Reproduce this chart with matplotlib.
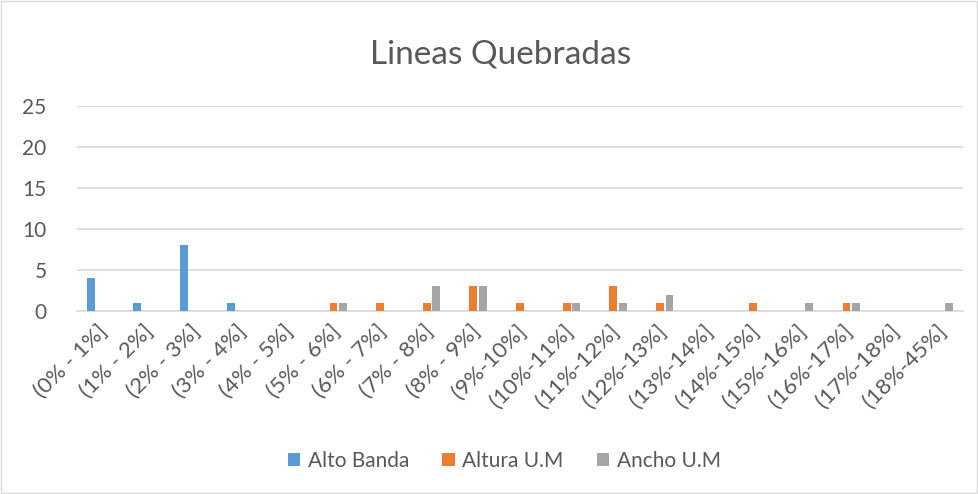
import matplotlib
matplotlib.use("Agg")
import matplotlib.pyplot as plt
import matplotlib.transforms as mtransforms
import numpy as np

plt.rcParams['font.family'] = ['Lato', 'DejaVu Sans']

categories = ["(0% - 1%]", "(1% - 2%]", "(2% - 3%]", "(3% - 4%]", "(4% - 5%]",
              "(5% - 6%]", "(6% - 7%]", "(7% - 8%]", "(8% - 9%]", "(9%-10%]",
              "(10%-11%]", "(11%-12%]", "(12%-13%]", "(13%-14%]", "(14%-15%]",
              "(15%-16%]", "(16%-17%]", "(17%-18%]", "(18%-45%]"]
alto_banda = [4, 1, 8, 1, 0, 0, 0, 0, 0, 0, 0, 0, 0, 0, 0, 0, 0, 0, 0]
altura_um = [0, 0, 0, 0, 0, 1, 1, 1, 3, 1, 1, 3, 1, 0, 1, 0, 1, 0, 0]
ancho_um = [0, 0, 0, 0, 0, 1, 0, 3, 3, 0, 1, 1, 2, 0, 0, 1, 1, 0, 1]

series = [("Alto Banda", alto_banda, "#5b9bd5"),
          ("Altura U.M", altura_um, "#ed7d31"),
          ("Ancho U.M", ancho_um, "#a5a5a5")]

text_col = "#595959"
grid_col = "#d9d9d9"

fig = plt.figure(figsize=(9.79, 4.94), dpi=100)
ax = fig.add_axes([0.0787, 0.3704, 0.905, 0.415])

x = np.arange(len(categories))
step = 0.205
width = 0.17
for i, (name, vals, col) in enumerate(series):
    ax.bar(x + (i - 1) * step, vals, width=width, color=col, label=name, zorder=3)

ax.set_xlim(-0.5, len(categories) - 0.5)
ax.set_ylim(0, 25)
ax.set_yticks(range(0, 26, 5))
ax.yaxis.grid(True, color=grid_col, linewidth=1.2, zorder=0)
for s in ["top", "right", "left"]:
    ax.spines[s].set_visible(False)
ax.spines["bottom"].set_color(grid_col)
ax.spines["bottom"].set_linewidth(1.2)
ax.tick_params(axis="both", length=0, colors=text_col, labelsize=15)
ax.tick_params(axis="y", pad=22)
ax.set_xticks(x)
ax.set_xticklabels(categories, rotation=45, ha="right", rotation_mode="anchor", fontsize=16)
ax.tick_params(axis="x", pad=7)

# nudge the rotated category labels a little to the left
shift = mtransforms.ScaledTranslation(-4 / 100, 0, fig.dpi_scale_trans)
for lbl in ax.get_xticklabels():
    lbl.set_transform(lbl.get_transform() + shift)

fig.text(0.511, 0.89, "Lineas Quebradas", ha="center", va="center",
         fontsize=24, color=text_col)

leg = fig.legend(loc="center", bbox_to_anchor=(0.515, 0.067), ncol=3, frameon=False,
                 fontsize=15, handlelength=0.6, handleheight=0.6, handletextpad=0.35,
                 columnspacing=1.6)
for t in leg.get_texts():
    t.set_color(text_col)

fig.add_artist(plt.Rectangle((0.001, 0.002), 0.997, 0.995, transform=fig.transFigure,
                             fill=False, edgecolor=grid_col, linewidth=1))

fig.savefig("out.png", dpi=100)
